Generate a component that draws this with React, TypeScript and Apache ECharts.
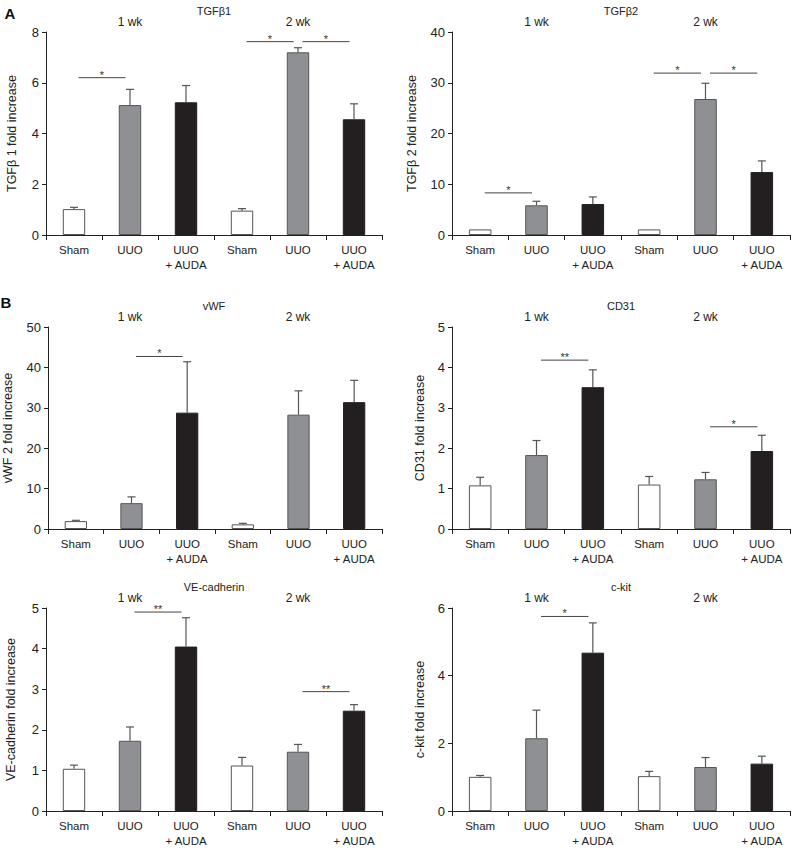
import React, { useEffect, useRef } from "react";
import * as echarts from "echarts";

const categories = ["Sham", "UUO", "UUO\n+ AUDA", "Sham", "UUO", "UUO\n+ AUDA"];
const weekLabels = ["1 wk", "2 wk"];
const barColors = ["#ffffff", "#8f9094", "#231f20", "#ffffff", "#8f9094", "#231f20"];

const tgfb1Values = [1.02, 5.12, 5.23, 0.96, 7.2, 4.56];
const tgfb1Errors = [0.07, 0.62, 0.66, 0.08, 0.18, 0.61];
const tgfb1Sig = [[0, 1, 6.2, "*"], [3, 4, 7.62, "*"], [4, 5, 7.62, "*"]];

const tgfb2Values = [1.1, 5.85, 6.1, 1.1, 26.8, 12.4];
const tgfb2Errors = [0, 0.8, 1.4, 0, 3.1, 2.2];
const tgfb2Sig = [[0, 1, 8.3, "*"], [3, 4, 31.9, "*"], [4, 5, 31.9, "*"]];

const vwfValues = [1.95, 6.4, 28.8, 1.15, 28.3, 31.4];
const vwfErrors = [0.2, 1.55, 12.6, 0.25, 5.9, 5.4];
const vwfSig = [[1, 2, 42.7, "*"]];

const cd31Values = [1.08, 1.83, 3.51, 1.1, 1.23, 1.93];
const cd31Errors = [0.2, 0.36, 0.43, 0.2, 0.17, 0.39];
const cd31Sig = [[1, 2, 4.18, "**"], [4, 5, 2.53, "*"]];

const veValues = [1.04, 1.73, 4.05, 1.12, 1.46, 2.47];
const veErrors = [0.09, 0.34, 0.71, 0.2, 0.18, 0.15];
const veSig = [[1, 2, 4.9, "**"], [4, 5, 2.94, "**"]];

const ckitValues = [1.01, 2.15, 4.68, 1.03, 1.3, 1.4];
const ckitErrors = [0.04, 0.83, 0.88, 0.14, 0.28, 0.22];
const ckitSig = [[1, 2, 5.75, "*"]];

const FONT = "'Liberation Sans', Arial, Helvetica, sans-serif";
const TEXT = "#222";
const EDGE = "#555";

const panels = [
  { title: "TGFβ1", yName: "TGFβ 1 fold increase", max: 8, interval: 2, values: tgfb1Values, errors: tgfb1Errors, sig: tgfb1Sig, left: 46, width: 336, top: 32, height: 203, nameGap: 28 },
  { title: "TGFβ2", yName: "TGFβ 2 fold increase", max: 40, interval: 10, values: tgfb2Values, errors: tgfb2Errors, sig: tgfb2Sig, left: 452, width: 338, top: 32, height: 203, nameGap: 34 },
  { title: "vWF", yName: "vWF 2 fold increase", max: 50, interval: 10, values: vwfValues, errors: vwfErrors, sig: vwfSig, left: 46, width: 336, top: 327, height: 202, nameGap: 34 },
  { title: "CD31", yName: "CD31 fold increase", max: 5, interval: 1, values: cd31Values, errors: cd31Errors, sig: cd31Sig, left: 452, width: 338, top: 327, height: 202, nameGap: 26 },
  { title: "VE-cadherin", yName: "VE-cadherin fold increase", max: 5, interval: 1, values: veValues, errors: veErrors, sig: veSig, left: 46, width: 336, top: 608, height: 203, nameGap: 29 },
  { title: "c-kit", yName: "c-kit fold increase", max: 6, interval: 2, values: ckitValues, errors: ckitErrors, sig: ckitSig, left: 452, width: 338, top: 608, height: 203, nameGap: 26 },
];

function buildOption() {
  const grid: any[] = [];
  const xAxis: any[] = [];
  const yAxis: any[] = [];
  const series: any[] = [];
  const graphic: any[] = [];

  panels.forEach((p, i) => {
    grid.push({ left: p.left, top: p.top, width: p.width, height: p.height, containLabel: false });
    xAxis.push({
      type: "category",
      gridIndex: i,
      data: categories,
      boundaryGap: true,
      axisLine: { show: true, lineStyle: { color: "#222", width: 1 } },
      axisTick: { show: true, length: 5, interval: 0, lineStyle: { color: "#222" } },
      axisLabel: { interval: 0, color: TEXT, fontSize: 11.5, fontFamily: FONT, lineHeight: 15, margin: 7 },
      splitLine: { show: false },
    });
    yAxis.push({
      type: "value",
      gridIndex: i,
      min: 0,
      max: p.max,
      interval: p.interval,
      name: p.yName,
      nameLocation: "middle",
      nameGap: p.nameGap,
      nameTextStyle: { color: TEXT, fontSize: 12.5, fontFamily: FONT },
      axisLine: { show: true, lineStyle: { color: "#222", width: 1 } },
      axisTick: { show: true, length: 4, lineStyle: { color: "#222" } },
      axisLabel: { color: TEXT, fontSize: 13, fontFamily: FONT, margin: 7 },
      splitLine: { show: false },
    });

    series.push({
      type: "bar",
      xAxisIndex: i,
      yAxisIndex: i,
      barWidth: "40%",
      data: p.values.map((v, k) => ({
        value: v,
        itemStyle: { color: barColors[k], borderColor: k % 3 === 2 ? "#231f20" : EDGE, borderWidth: 1 },
      })),
      z: 2,
    });

    series.push({
      type: "custom",
      xAxisIndex: i,
      yAxisIndex: i,
      data: p.values.map((v, k) => [k, v, v + p.errors[k]]),
      encode: { x: 0, y: [1, 2] },
      z: 3,
      renderItem: (params: any, api: any) => {
        const x = api.value(0);
        const lo = api.coord([x, api.value(1)]);
        const hi = api.coord([x, api.value(2)]);
        if (Math.abs(hi[1] - lo[1]) < 0.5) return { type: "group", children: [] };
        const style = { stroke: EDGE, lineWidth: 1.2 };
        return {
          type: "group",
          children: [
            { type: "line", shape: { x1: lo[0], y1: lo[1], x2: hi[0], y2: hi[1] }, style },
            { type: "line", shape: { x1: hi[0] - 4, y1: hi[1], x2: hi[0] + 4, y2: hi[1] }, style },
          ],
        };
      },
    });

    series.push({
      type: "custom",
      xAxisIndex: i,
      yAxisIndex: i,
      data: p.sig.map((s) => [s[0], s[1], s[2], s[3]]),
      encode: { x: [0, 1], y: 2 },
      z: 4,
      renderItem: (params: any, api: any) => {
        const a = api.coord([api.value(0), api.value(2)]);
        const b = api.coord([api.value(1), api.value(2)]);
        const label = p.sig[params.dataIndex][3] as string;
        const x1 = a[0] + 4.5;
        const x2 = b[0] - 4.5;
        return {
          type: "group",
          children: [
            { type: "line", shape: { x1, y1: a[1], x2, y2: a[1] }, style: { stroke: "#444", lineWidth: 1 } },
            {
              type: "text",
              x: (x1 + x2) / 2,
              y: a[1] - 3,
              style: { text: label, fill: "#333", font: `11px ${FONT}`, textAlign: "center", textVerticalAlign: "middle" },
            },
          ],
        };
      },
    });

    graphic.push({
      type: "text",
      left: undefined,
      x: p.left + p.width / 2,
      y: p.top - 21,
      style: { text: p.title, fill: TEXT, font: `11px ${FONT}`, textAlign: "center", textVerticalAlign: "middle" },
    });
    weekLabels.forEach((w, j) => {
      graphic.push({
        type: "text",
        x: p.left + (p.width * (1.5 + 3 * j)) / 6,
        y: p.top - 10.5,
        style: { text: w, fill: TEXT, font: `12px ${FONT}`, textAlign: "center", textVerticalAlign: "middle" },
      });
    });
  });

  graphic.push({ type: "text", x: 10, y: 13, style: { text: "A", fill: "#111", font: `bold 15px ${FONT}`, textAlign: "center", textVerticalAlign: "middle" } });
  graphic.push({ type: "text", x: 6, y: 302, style: { text: "B", fill: "#111", font: `bold 15px ${FONT}`, textAlign: "center", textVerticalAlign: "middle" } });

  return {
    animation: false,
    backgroundColor: "#ffffff",
    textStyle: { fontFamily: FONT },
    grid,
    xAxis,
    yAxis,
    series,
    graphic,
  };
}

export default function App() {
  const ref = useRef<HTMLDivElement>(null);
  useEffect(() => {
    if (!ref.current) return;
    const chart = echarts.init(ref.current, null, { renderer: "svg" });
    chart.setOption(buildOption() as any);
    return () => chart.dispose();
  }, []);
  return <div ref={ref} style={{ position: "fixed", left: 0, top: 0, width: 796, height: 850, background: "#fff" }} />;
}
